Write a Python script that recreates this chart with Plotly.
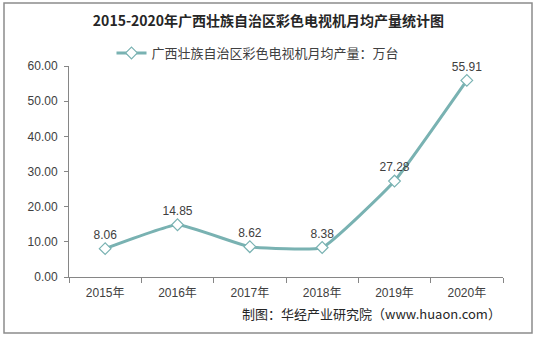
import plotly.graph_objects as go

years = ["2015年", "2016年", "2017年", "2018年", "2019年", "2020年"]
values = [8.06, 14.85, 8.62, 8.38, 27.28, 55.91]
labels = ["8.06", "14.85", "8.62", "8.38", "27.28", "55.91"]
y_ticks = [0, 10, 20, 30, 40, 50, 60]
y_ticklabels = ["0.00", "10.00", "20.00", "30.00", "40.00", "50.00", "60.00"]

W, H = 537, 339
L, R, T, B = 69, 34, 66, 62
pw, ph = W - L - R, H - T - B

def px_x(px):
    return (px - L) / pw

def px_y(py):
    return (H - B - py) / ph

line_color = "#79b2b2"
text_color = "#404040"
font_main = "Liberation Sans, Arial, Noto Sans CJK SC, sans-serif"
font_cjk = "Noto Sans CJK SC, Liberation Sans, sans-serif"

fig = go.Figure()
fig.add_trace(go.Scatter(
    x=years, y=values,
    mode="lines+markers+text",
    name="广西壮族自治区彩色电视机月均产量：万台",
    line=dict(color=line_color, width=3, shape="spline", smoothing=0.35),
    marker=dict(symbol="diamond", size=9, color="white",
                line=dict(color=line_color, width=1.2)),
    text=labels, textposition="top center",
    textfont=dict(size=12, color=text_color, family=font_main),
    cliponaxis=False,
))

fig.update_layout(
    width=W, height=H,
    margin=dict(l=L, r=R, t=T, b=B),
    paper_bgcolor="white", plot_bgcolor="white",
    title=dict(text="<b>2015-2020年广西壮族自治区彩色电视机月均产量统计图</b>",
               x=0.5, xanchor="center", y=1 - 21 / H, yanchor="middle",
               font=dict(size=14, color="#262626", family=font_cjk)),
    showlegend=True,
    legend=dict(orientation="h", x=px_x(258), xanchor="center",
                y=px_y(53), yanchor="middle",
                font=dict(size=13, color=text_color, family=font_cjk),
                bgcolor="rgba(0,0,0,0)", itemwidth=30),
    xaxis=dict(type="category", showgrid=False, showline=True,
               linecolor="#868686", linewidth=1,
               ticks="outside", tickson="boundaries", ticklen=5,
               tickcolor="#868686", ticklabelstandoff=5,
               tickfont=dict(size=12, color=text_color, family=font_main),
               range=[-0.5, 5.5]),
    yaxis=dict(range=[0, 60], tickvals=y_ticks, ticktext=y_ticklabels,
               showgrid=False, showline=True, linecolor="#868686", linewidth=1,
               ticks="outside", ticklen=4, tickcolor="#868686",
               ticklabelstandoff=4,
               tickfont=dict(size=12, color=text_color, family=font_main),
               zeroline=False),
)

# footer
fig.add_annotation(text="制图：华经产业研究院（www.huaon.com）",
                   x=px_x(503), y=px_y(313), xref="paper", yref="paper",
                   xanchor="right", yanchor="middle", showarrow=False,
                   font=dict(size=13, color="#262626", family=font_cjk))

# outer border
fig.add_shape(type="rect", xref="paper", yref="paper",
              x0=px_x(4), x1=px_x(532), y0=px_y(333), y1=px_y(3),
              line=dict(color="#8c8c8c", width=1.5), fillcolor="rgba(0,0,0,0)",
              layer="below")

fig.write_html("out.html")
